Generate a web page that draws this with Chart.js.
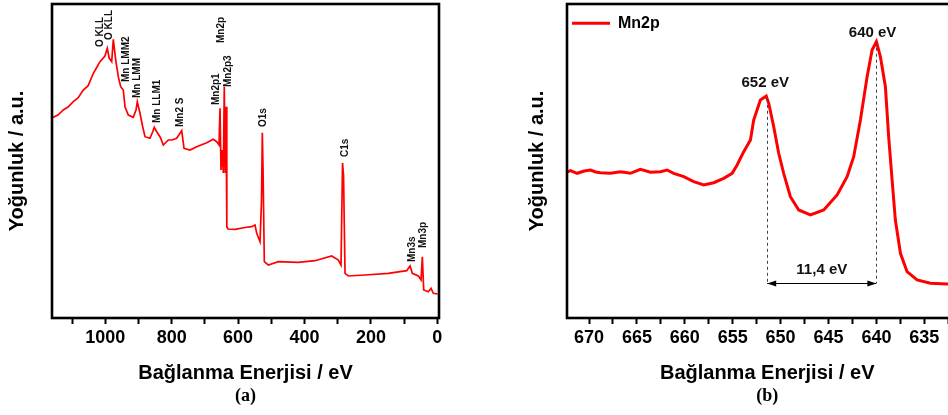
<!DOCTYPE html>
<html>
<head>
<meta charset="utf-8">
<script src="https://cdn.jsdelivr.net/npm/chart.js@4.4.1/dist/chart.umd.min.js"></script>
<style>
  html, body { margin: 0; padding: 0; background: #fff; overflow: hidden; width: 948px; height: 415px; }
  #wrap { position: relative; width: 948px; height: 415px; overflow: hidden; }
  canvas { position: absolute; top: 0; }
  #survey { left: 0; }
  #mn2p { left: 480px; }
</style>
</head>
<body>
<div id="wrap">
  <canvas id="survey" width="480" height="415"></canvas>
  <canvas id="mn2p" width="500" height="415"></canvas>
</div>
<script>
// (a) survey spectrum: binding energy (eV) and intensity (a.u.)
const energyA = [1160, 1156.6, 1142.5, 1126.5, 1112.3, 1096.4, 1082.2, 1066.3, 1052.1, 1036.1, 1025, 1016, 1001, 994, 988,
  980.7, 975.9, 968.7, 960.8, 953.6, 945.8, 940.7, 930.7, 915.7, 907.5, 903.6, 895.5, 887.3, 880.4, 865.4, 857.2,
  852.4, 845.2, 835.2, 825.3, 810.2, 799.1, 785, 769.9, 762.9, 744.9, 724.7, 694.6, 674.7, 664.5, 657.5, 654.5,
  651.5, 647.6, 644.6, 641.6, 638.9, 636.4, 634, 630.4, 609.3, 579.2, 559, 549.1, 544, 534, 529.5, 527.1, 525,
  521.1, 509, 478.9, 418.7, 368.4, 318.1, 298.2, 290.1, 285.5, 282.5, 278, 268.1, 217.8, 147.6, 92.2, 82.2, 75.3,
  57.2, 49.1, 45.2, 41, 27.1, 19, 12, -1.2];
const intensityA = [200, 200.7, 203, 208, 211, 216.3, 220, 228, 232, 244.7, 251, 256.3, 262, 269.7, 259.7,
  256.3, 278.7, 258, 241.3, 231.3, 228, 211.3, 203, 200.7, 208, 216.3, 204.7, 191.3, 181.3, 179.7, 186.3,
  190.7, 186.3, 181.3, 173, 178, 178, 179.7, 187.3, 169.7, 168, 171.3, 175.3, 178.7, 176.3, 173, 209.7,
  148, 168, 145, 231.3, 145, 211.3, 91, 89, 88.7, 90.5, 91.3, 93, 84.7, 76.3, 118, 185.3, 150,
  56.3, 53, 56.3, 55.7, 57.3, 62, 58, 53, 155, 143, 44.7, 42, 43, 44.7, 47.3, 52, 44.7,
  42, 38, 61.3, 28, 26.3, 29.7, 24.7, 24];

// (a) peak assignments: name, energy of the label, intensity at the label foot
const peakNamesA = ['O KLL', 'O KLL', 'Mn LMM2', 'Mn LMM', 'Mn LLM1', 'Mn2 S', 'Mn2p1', 'Mn2p', 'Mn2p3', 'O1s', 'C1s', 'Mn3s', 'Mn3p'];
const peakEnergiesA = [1016, 987, 938, 904.5, 844, 775, 666.6, 651.5, 630.4, 525, 278, 76, 43];
const peakLevelsA = [271, 278, 236, 220, 195, 191, 213, 275, 231, 191, 161, 56, 70];

// (b) Mn 2p region
const energyB = [672.3, 671.94, 671.24, 670.5, 669.85, 669.3, 668.81, 667.77, 666.72, 665.68, 664.64, 663.59, 662.55,
  661.85, 661.16, 660.11, 659.07, 658.03, 656.98, 655.94, 655.06, 654.54, 653.85, 653.15, 652.81, 652.11, 651.5,
  651.24, 650.72, 650.2, 649.68, 648.98, 648.11, 646.89, 645.5, 644.1, 643.06, 642.37, 641.67, 640.97, 640.45, 640.0,
  639.58, 639.06, 638.72, 638.36, 638.02, 637.49, 636.8, 635.75, 634.36, 632.62, 631.5, 630.5];
const intensityB = [146, 147.3, 144.7, 147, 148, 146, 145.3, 144.7, 146.3, 144.7, 148.7, 145.7, 146.3,
  148, 144.7, 141.3, 136.3, 133, 135.3, 139.7, 144.7, 153, 166.3, 178, 198, 218, 222,
  214.7, 191.3, 164.7, 144.7, 121.3, 108, 103, 108, 123, 141.3, 161.3, 198, 241.3, 268, 276.3,
  261.3, 231.3, 181.3, 138, 98, 64.7, 46.3, 38, 34.7, 34, 34.5, 34];

// (b) Mn 2p1/2 and 2p3/2 positions and their splitting
const peakEnergiesB = [651.4, 640.0];
const peakTextB = ['652 eV', '640 eV'];
const splitTextB = '11,4 eV';
const splitLevelB = 35;

const FONT = '"Liberation Sans", Arial, Helvetica, sans-serif';
Chart.defaults.font.family = FONT;
Chart.defaults.color = '#000';

const toPoints = (xs, ys) => xs.map((x, i) => ({ x: x, y: ys[i] }));

function interp(xs, ys, e) {
  for (let i = 0; i < xs.length - 1; i++) {
    const a = xs[i], b = xs[i + 1];
    if ((e <= a && e >= b) || (e >= a && e <= b)) {
      const t = (e - a) / (b - a || 1);
      return ys[i] + t * (ys[i + 1] - ys[i]);
    }
  }
  return ys[ys.length - 1];
}

// black box around the plot area
const framePlugin = {
  id: 'frame',
  afterDraw(chart) {
    const { ctx, chartArea: a } = chart;
    ctx.save();
    ctx.strokeStyle = '#000';
    ctx.lineWidth = 2.6;
    ctx.strokeRect(a.left, a.top, a.right - a.left, a.bottom - a.top);
    ctx.restore();
  }
};

// vertical peak assignments on the survey
const surveyLabels = {
  id: 'surveyLabels',
  afterDatasetsDraw(chart) {
    const { ctx, scales: { x, y } } = chart;
    ctx.save();
    ctx.fillStyle = '#111';
    ctx.font = 'bold 10px ' + FONT;
    ctx.textAlign = 'left';
    ctx.textBaseline = 'middle';
    peakNamesA.forEach((name, i) => {
      ctx.save();
      ctx.translate(x.getPixelForValue(peakEnergiesA[i]), y.getPixelForValue(peakLevelsA[i]));
      ctx.rotate(-Math.PI / 2);
      ctx.fillText(name, 0, 0);
      ctx.restore();
    });
    ctx.restore();
  }
};

// dashed peak markers, splitting arrow and peak energies
const splitting = {
  id: 'splitting',
  afterDatasetsDraw(chart) {
    const { ctx, scales: { x, y } } = chart;
    const yA = y.getPixelForValue(splitLevelB);
    const xs = peakEnergiesB.map(e => x.getPixelForValue(e));
    ctx.save();
    ctx.strokeStyle = '#444';
    ctx.lineWidth = 1;
    ctx.setLineDash([3, 3]);
    peakEnergiesB.forEach((e, i) => {
      const top = y.getPixelForValue(interp(energyB, intensityB, e));
      ctx.beginPath();
      ctx.moveTo(Math.round(xs[i]) + 0.5, top);
      ctx.lineTo(Math.round(xs[i]) + 0.5, yA);
      ctx.stroke();
    });
    ctx.setLineDash([]);
    ctx.strokeStyle = '#000';
    ctx.beginPath();
    ctx.moveTo(xs[0], yA + 0.5);
    ctx.lineTo(xs[1], yA + 0.5);
    ctx.stroke();
    ctx.fillStyle = '#000';
    const head = (tip, dir) => {
      ctx.beginPath();
      ctx.moveTo(tip, yA + 0.5);
      ctx.lineTo(tip + dir * 9, yA - 2.5);
      ctx.lineTo(tip + dir * 9, yA + 3.5);
      ctx.closePath();
      ctx.fill();
    };
    head(xs[0], 1);
    head(xs[1], -1);
    ctx.font = 'bold 15px ' + FONT;
    ctx.textAlign = 'center';
    ctx.textBaseline = 'middle';
    ctx.fillStyle = '#111';
    ctx.fillText(splitTextB, (xs[0] + xs[1]) / 2, y.getPixelForValue(48));
    ctx.fillText(peakTextB[0], x.getPixelForValue(peakEnergiesB[0] + 0.2), y.getPixelForValue(235));
    ctx.fillText(peakTextB[1], x.getPixelForValue(peakEnergiesB[1] + 0.4), y.getPixelForValue(285));
    ctx.restore();
  }
};

const tickFont = { size: 18, weight: 'bold' };
const titleFont = { size: 20, weight: 'bold' };

function axisGrid() {
  return { drawOnChartArea: false, drawTicks: true, tickLength: 6, tickWidth: 2, tickColor: '#000' };
}

new Chart(document.getElementById('survey'), {
  type: 'line',
  data: {
    datasets: [{
      label: 'Survey',
      data: toPoints(energyA, intensityA),
      borderColor: '#ff0000',
      borderWidth: 1.7,
      pointRadius: 0,
      tension: 0
    }]
  },
  options: {
    responsive: false,
    animation: false,
    layout: { padding: { top: 4, right: 41, left: 0, bottom: 0 } },
    plugins: {
      legend: { display: false },
      tooltip: { enabled: false },
      title: {
        display: true, text: '(a)', position: 'bottom', fullSize: false, color: '#000',
        font: { family: '"Liberation Serif", "Times New Roman", serif', size: 18, weight: 'bold' },
        padding: { top: 0, bottom: 8 }
      }
    },
    scales: {
      x: {
        type: 'linear', reverse: true, min: -5, max: 1160.5,
        ticks: { stepSize: 100, includeBounds: false, autoSkip: false, maxRotation: 0, padding: 3, font: tickFont, color: '#000',
          callback: v => (v % 200 === 0 ? String(v) : '') },
        grid: axisGrid(),
        border: { display: false },
        title: { display: true, text: 'Bağlanma Enerjisi / eV', font: titleFont, color: '#000', padding: { top: 0, bottom: 0 } },
        afterFit: s => { s.height = 67.4; }
      },
      y: {
        min: 0, max: 314,
        ticks: { display: false },
        grid: { display: false },
        border: { display: false },
        title: { display: true, text: 'Yoğunluk / a.u.', font: titleFont, color: '#000', padding: { top: 5, bottom: 0 } },
        afterFit: s => { s.width = 52; }
      }
    }
  },
  plugins: [framePlugin, surveyLabels]
});

new Chart(document.getElementById('mn2p'), {
  type: 'line',
  data: {
    datasets: [{
      label: 'Mn2p',
      data: toPoints(energyB, intensityB),
      borderColor: '#ff0000',
      backgroundColor: '#ff0000',
      borderWidth: 3,
      pointRadius: 0,
      tension: 0
    }]
  },
  options: {
    responsive: false,
    animation: false,
    layout: { padding: { top: 4, right: 12.6, left: 0, bottom: 0 } },
    plugins: {
      legend: {
        display: true, position: 'chartArea', align: 'start',
        title: { display: true, text: '', font: { size: 1 }, padding: { top: 0, bottom: 9 } },
        labels: { usePointStyle: true, pointStyle: 'line', pointStyleWidth: 38, color: '#000',
          font: { size: 16, weight: 'bold' }, padding: 5, boxHeight: 16 }
      },
      tooltip: { enabled: false },
      title: {
        display: true, text: '(b)', position: 'bottom', fullSize: false, color: '#000',
        font: { family: '"Liberation Serif", "Times New Roman", serif', size: 18, weight: 'bold' },
        padding: { top: 0, bottom: 8 }
      }
    },
    scales: {
      x: {
        type: 'linear', reverse: true, min: 630.5, max: 672.3,
        ticks: { stepSize: 2.5, includeBounds: false, autoSkip: false, maxRotation: 0, padding: 3, font: tickFont, color: '#000',
          callback: v => (Math.abs(v % 5) < 1e-6 ? String(v) : '') },
        grid: axisGrid(),
        border: { display: false },
        title: { display: true, text: 'Bağlanma Enerjisi / eV', font: titleFont, color: '#000', padding: { top: 0, bottom: 0 } },
        afterFit: s => { s.height = 67.4; }
      },
      y: {
        min: 0, max: 314,
        ticks: { display: false },
        grid: { display: false },
        border: { display: false },
        title: { display: true, text: 'Yoğunluk / a.u.', font: titleFont, color: '#000', padding: { top: 45, bottom: 0 } },
        afterFit: s => { s.width = 87; }
      }
    }
  },
  plugins: [framePlugin, splitting]
});
</script>
</body>
</html>
